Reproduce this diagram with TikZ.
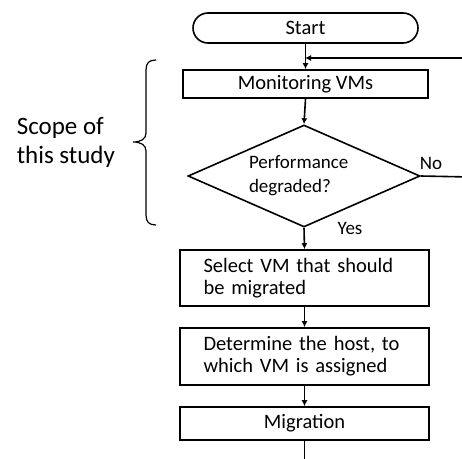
\documentclass[tikz,border=0pt]{standalone}
\usepackage{fontspec}
\setmainfont{Carlito}
\usetikzlibrary{shapes.geometric,arrows.meta}
\begin{document}
\begin{tikzpicture}[x=1pt,y=-1pt,line width=1.6pt,
  arr/.style={-{Latex[length=6pt,width=6pt]}},
  procbox/.style={draw,rectangle,minimum width=249pt,inner sep=0pt,font=\fontsize{20.5}{22}\selectfont},
  lbl/.style={font=\fontsize{19}{21}\selectfont,inner sep=0pt}]
\useasboundingbox (0,0) rectangle (462,458);
\clip (0,0) rectangle (462,458);
\node[draw,rectangle,rounded corners=15pt,minimum width=225pt,minimum height=30pt,inner sep=0pt,font=\fontsize{20.5}{22}\selectfont] (start) at (305.5,28) {Start};
\node[procbox,minimum width=245pt,minimum height=28pt] (mon) at (305.5,84) {Monitoring VMs};
\node[draw,diamond,aspect=2.27,minimum width=232pt,minimum height=102pt,inner sep=0pt,text width=110pt,align=left,font=\fontsize{19}{24}\selectfont] (dia) at (304,176) {Performance\\degraded?};
\node[procbox,minimum height=56pt,text width=202pt,align=left] (sel) at (304.5,278) {Select VM that should\\be migrated};
\node[procbox,minimum height=57pt,text width=202pt,align=left] (det) at (304.5,356.5) {Determine the host, to\\which VM is assigned};
\node[procbox,minimum height=33pt] (mig) at (304.5,423.5) {Migration};
\coordinate (fbA) at (470,177);
\coordinate (join) at (305,58);
\coordinate (endB) at (304.5,470);
\node[lbl] (no) at (431,163) {No};
\node[lbl] (yes) at (350,228) {Yes};
\node[font=\fontsize{25}{29}\selectfont,align=left,inner sep=0pt,anchor=west] (scope) at (16,142) {Scope of\\this study};
\draw[arr] (start.south) -- (mon.north);
\draw[arr] (mon.south) -- (dia.north);
\draw[arr] (dia.south) -- (sel.north);
\draw[arr] (sel.south) -- (det.north);
\draw[arr] (det.south) -- (mig.north);
\draw (mig.south) -- (endB);
\draw[arr] (dia.east) -- (fbA) |- (join);
\draw[line width=1.2pt] (156,60) .. controls (149,60) and (146,63) .. (146,70) -- (146,133) .. controls (146,139) and (141,142) .. (133,142) .. controls (141,142) and (146,145) .. (146,151) -- (146,215) .. controls (146,222) and (149,225) .. (156,225);
\end{tikzpicture}
\end{document}
